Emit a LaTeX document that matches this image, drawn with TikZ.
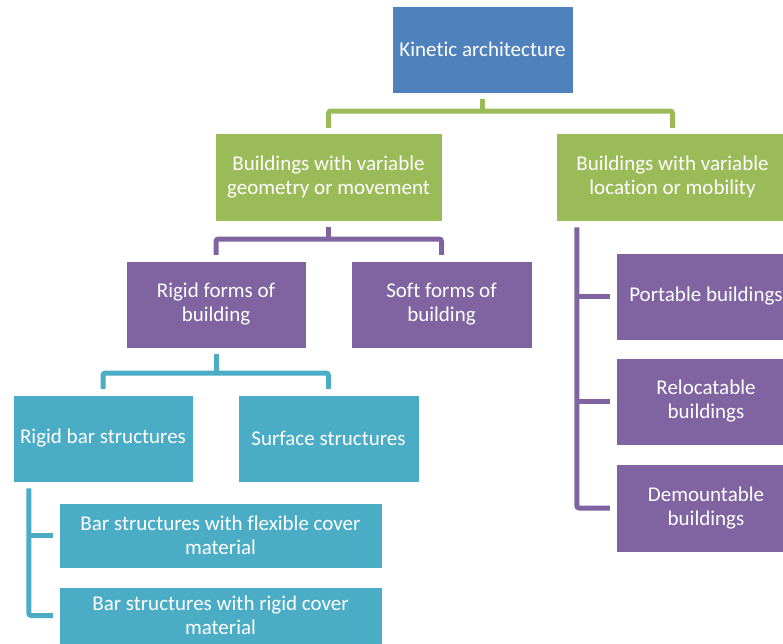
\documentclass[tikz,border=0pt]{standalone}
\usepackage{fontspec}
\setmainfont{Carlito}[Ligatures=NoCommon]
\definecolor{kblue}{HTML}{4F81BD}
\definecolor{kgreen}{HTML}{9BBB59}
\definecolor{kpurple}{HTML}{8064A2}
\definecolor{kteal}{HTML}{4BACC6}
\begin{document}
\begin{tikzpicture}[x=1pt,y=-1pt,
  box/.style={draw=white, line width=0.5pt, text=white, align=center, inner sep=0pt, font=\fontsize{21}{24}\selectfont},
  conn/.style={line width=5pt, rounded corners=2.5pt},
  gc/.style={conn, draw=kgreen},
  pc/.style={conn, draw=kpurple},
  tc/.style={conn, draw=kteal}]
\useasboundingbox (0,0) rectangle (783,643);
\clip (0,0) rectangle (783,643);
% boxes
\node[box, fill=kblue, minimum width=181, minimum height=87] (ka) at (482.5,49.5) {Kinetic architecture};
\node[box, fill=kgreen, minimum width=227, minimum height=88] (g1) at (328.5,177) {Buildings with variable\\geometry or movement};
\node[box, fill=kgreen, minimum width=233, minimum height=88] (g2) at (672.5,177) {Buildings with variable\\location or mobility};
\node[box, fill=kpurple, minimum width=180, minimum height=87] (p1) at (216,304.5) {Rigid forms of\\building};
\node[box, fill=kpurple, minimum width=181, minimum height=87] (p2) at (441.5,304.5) {Soft forms of\\building};
\node[box, fill=kteal, minimum width=180, minimum height=87] (t1) at (103,438.5) {Rigid bar structures};
\node[box, fill=kteal, minimum width=181, minimum height=87] (t2) at (328.5,438.5) {Surface structures};
\node[box, fill=kteal, minimum width=323, minimum height=65] (s1) at (220.5,535.5) {Bar structures with flexible cover\\material};
\node[box, fill=kteal, minimum width=323, minimum height=57] (s2) at (220.5,615.5) {Bar structures with rigid cover\\material};
\node[box, fill=kpurple, minimum width=180, minimum height=87] (r1) at (706,296.5) {Portable buildings};
\node[box, fill=kpurple, minimum width=180, minimum height=87] (r2) at (706,401.5) {Relocatable\\buildings};
\node[box, fill=kpurple, minimum width=180, minimum height=88] (r3) at (706,508) {Demountable\\buildings};
% green connectors
\draw[gc] ([yshift=-6pt]ka.south) -- (ka.south |- 0,111);
\draw[gc] ([yshift=5pt]g1.north) |- (ka.south |- 0,111) -| ([yshift=5pt]g2.north);
% purple connectors
\draw[pc] ([yshift=-6pt]g1.south) -- (g1.south |- 0,239);
\draw[pc] ([yshift=6pt]p1.north) |- (g1.south |- 0,239) -| ([yshift=6pt]p2.north);
% teal connectors
\draw[tc] ([yshift=-6pt]p1.south) -- (p1.south |- 0,373);
\draw[tc] ([yshift=6pt]t1.north) |- (p1.south |- 0,373) -| ([yshift=6pt]t2.north);
% left teal bracket
\coordinate (tl) at ([xshift=16pt,yshift=-6pt]t1.south west);
\draw[tc] (tl) |- ([xshift=-6pt]s2.west);
\draw[tc] (tl |- s1.west) -- ([xshift=-6pt]s1.west);
% right purple bracket
\coordinate (rt) at ([xshift=21pt,yshift=-6pt]g2.south west);
\draw[pc] (rt) |- ([xshift=-6pt]r3.west);
\draw[pc] (rt |- r1.west) -- ([xshift=-6pt]r1.west);
\draw[pc] (rt |- r2.west) -- ([xshift=-6pt]r2.west);
\end{tikzpicture}
\end{document}
